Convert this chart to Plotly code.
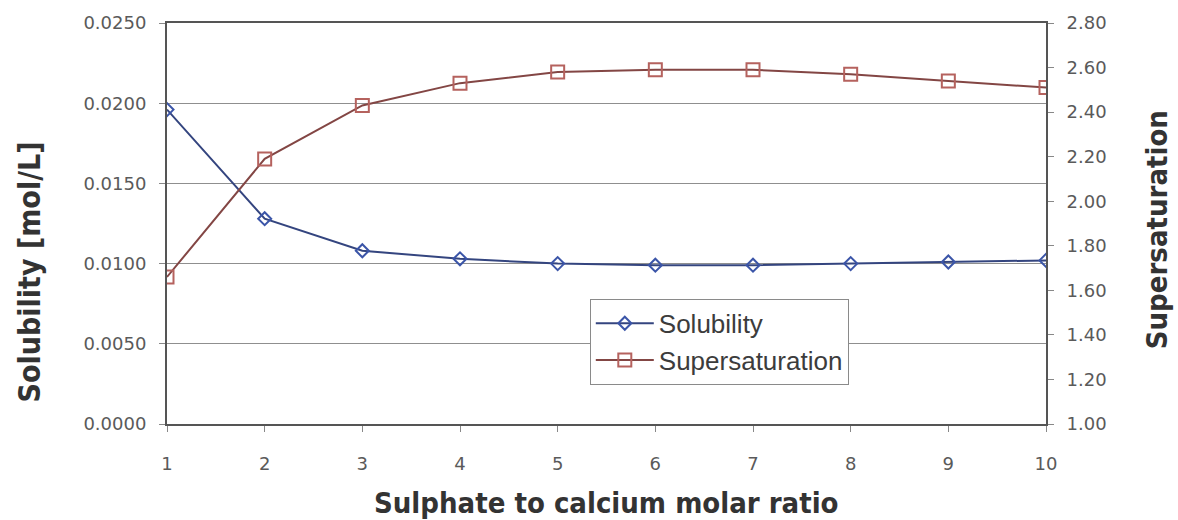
import plotly.graph_objects as go

# Sulphate to calcium molar ratio
ratio = [1, 2, 3, 4, 5, 6, 7, 8, 9, 10]
# Solubility [mol/L]
solubility = [0.0196, 0.0128, 0.0108, 0.0103, 0.0100, 0.0099, 0.0099, 0.0100, 0.0101, 0.0102]
# Supersaturation (dimensionless)
supersaturation = [1.66, 2.19, 2.43, 2.53, 2.58, 2.59, 2.59, 2.57, 2.54, 2.51]

left_ticks = [0.0, 0.005, 0.010, 0.015, 0.020, 0.025]
left_labels = ["0.0000", "0.0050", "0.0100", "0.0150", "0.0200", "0.0250"]
right_ticks = [1.0, 1.2, 1.4, 1.6, 1.8, 2.0, 2.2, 2.4, 2.6, 2.8]
right_labels = ["1.00", "1.20", "1.40", "1.60", "1.80", "2.00", "2.20", "2.40", "2.60", "2.80"]

tick_font = dict(family="DejaVu Sans", size=18, color="#5a5a5a")
title_family = "DejaVu Sans Condensed"
title_color = "#333333"

fig = go.Figure()
fig.add_trace(go.Scatter(
    x=ratio, y=solubility, name="Solubility", mode="lines+markers",
    line=dict(color="#34457f", width=2),
    marker=dict(symbol="diamond-open", size=10, color="#3b55a8", line=dict(width=2)),
    yaxis="y",
))
fig.add_trace(go.Scatter(
    x=ratio, y=supersaturation, name="Supersaturation", mode="lines+markers",
    line=dict(color="#834644", width=2),
    marker=dict(symbol="square-open", size=13, color="#b5625e", line=dict(width=2)),
    yaxis="y2",
))

fig.update_layout(
    width=1178, height=520,
    margin=dict(l=167, r=132, t=18, b=96),
    paper_bgcolor="white", plot_bgcolor="white",
    showlegend=True,
    legend=dict(
        x=0.481, y=0.312, xanchor="left", yanchor="top",
        bgcolor="white", bordercolor="#8a8a8a", borderwidth=1,
        font=dict(family="Liberation Sans", size=26, color="#3c3c3c"),
        tracegroupgap=0, itemwidth=58,
    ),
    xaxis=dict(
        range=[1, 10], tickvals=ratio, ticktext=[str(v) for v in ratio],
        showline=True, linecolor="#555555", linewidth=2, mirror=True,
        ticks="outside", ticklen=6, tickcolor="#888888",
        ticklabelstandoff=16,
        showgrid=False, zeroline=False, tickfont=tick_font,
    ),
    yaxis=dict(
        range=[0, 0.025], tickvals=left_ticks, ticktext=left_labels,
        showline=True, linecolor="#555555", linewidth=2,
        ticks="outside", ticklen=6, tickcolor="#888888",
        ticklabelstandoff=9,
        showgrid=True, gridcolor="#8f8f8f", gridwidth=1, zeroline=False,
        tickfont=tick_font,
    ),
    yaxis2=dict(
        range=[1.0, 2.8], tickvals=right_ticks, ticktext=right_labels,
        overlaying="y", side="right",
        showline=True, linecolor="#555555", linewidth=2,
        ticks="outside", ticklen=6, tickcolor="#888888",
        ticklabelstandoff=9,
        showgrid=False, zeroline=False, tickfont=tick_font,
    ),
    annotations=[
        dict(text="<b>Sulphate to calcium molar ratio</b>", xref="paper", yref="paper",
             x=0.5, y=-0.196, xanchor="center", yanchor="middle", showarrow=False,
             font=dict(family=title_family, size=29, color=title_color)),
        dict(text="<b>Solubility [mol/L]</b>", xref="paper", yref="paper",
             x=-0.156, y=0.38, xanchor="center", yanchor="middle", showarrow=False,
             textangle=-90, font=dict(family=title_family, size=30, color=title_color)),
        dict(text="<b>Supersaturation</b>", xref="paper", yref="paper",
             x=1.126, y=0.485, xanchor="center", yanchor="middle", showarrow=False,
             textangle=-90, font=dict(family=title_family, size=29, color=title_color)),
    ],
)

fig.write_html("out.html")
